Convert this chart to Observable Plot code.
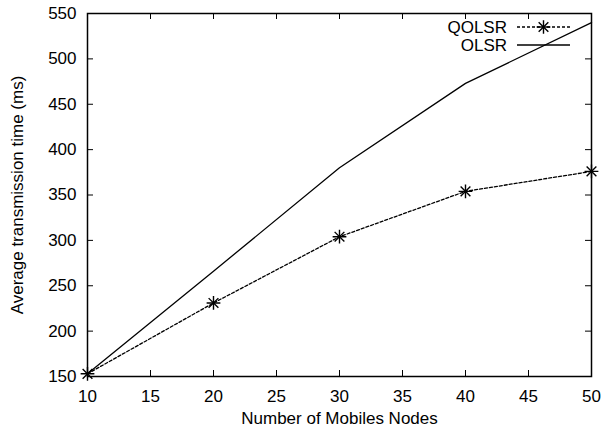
<!DOCTYPE html>
<html>
<head>
<meta charset="utf-8">
<script src="https://cdn.jsdelivr.net/npm/d3@7"></script>
<script src="https://cdn.jsdelivr.net/npm/@observablehq/plot@0.6"></script>
<style>
  html, body { margin: 0; padding: 0; background: #fff; }
  svg { font-family: "Liberation Sans", Arial, sans-serif; }
</style>
</head>
<body>
<div id="chart"></div>
<script>
const nodes = [10, 20, 30, 40, 50];
const qolsr = [153, 231, 304, 354, 376];
const olsr  = [153, 266, 380, 473, 540];
const xTicks = [10, 15, 20, 25, 30, 35, 40, 45, 50];
const yTicks = [150, 200, 250, 300, 350, 400, 450, 500, 550];
const seriesNames = ["QOLSR", "OLSR"];

const W = 605, H = 430, mL = 87, mR = 14, mT = 13, mB = 54;
const fw = W - mL - mR, fh = H - mT - mB, tl = 6, FS = 17;

const qData = nodes.map((x, i) => ({x, y: qolsr[i]}));
const oData = nodes.map((x, i) => ({x, y: olsr[i]}));

const svg = Plot.plot({
  width: W, height: H,
  marginLeft: mL, marginRight: mR, marginTop: mT, marginBottom: mB,
  style: {fontFamily: "Liberation Sans, Arial, sans-serif", fontSize: FS + "px", color: "black", background: "white"},
  x: {domain: [10, 50]},
  y: {domain: [150, 550]},
  marks: [
    Plot.axisX(xTicks, {tickSize: 0, tickPadding: 13, label: null, fontSize: FS}),
    Plot.axisY(yTicks, {tickSize: 0, tickPadding: 11, label: null, fontSize: FS}),
    Plot.tickX(xTicks, {x: d => d, insetTop: fh - tl, stroke: "black", strokeWidth: 1}),
    Plot.tickX(xTicks, {x: d => d, insetBottom: fh - tl, stroke: "black", strokeWidth: 1}),
    Plot.tickY(yTicks, {y: d => d, insetRight: fw - tl, stroke: "black", strokeWidth: 1}),
    Plot.tickY(yTicks, {y: d => d, insetLeft: fw - tl, stroke: "black", strokeWidth: 1}),
    Plot.line(oData, {x: "x", y: "y", stroke: "black", strokeWidth: 1.3}),
    Plot.line(qData, {x: "x", y: "y", stroke: "black", strokeWidth: 1.3, strokeDasharray: "3,2"}),
    Plot.dot(qData, {x: "x", y: "y", symbol: "plus", r: 4.5, stroke: "black", strokeWidth: 1.4}),
    Plot.dot(qData, {x: "x", y: "y", symbol: "times", r: 4.5, stroke: "black", strokeWidth: 1.4}),
    Plot.frame({stroke: "black", strokeWidth: 1.5}),
    Plot.text(["Number of Mobiles Nodes"], {frameAnchor: "bottom", dy: 42, textAnchor: "middle", lineAnchor: "middle", fontSize: FS, fill: "black"}),
    Plot.text(["Average transmission time (ms)"], {frameAnchor: "left", dx: -70, rotate: -90, textAnchor: "middle", lineAnchor: "middle", fontSize: FS, fill: "black"})
  ]
});

// legend (top-right, inside the frame)
const lg = d3.select(svg).append("g").attr("font-size", FS).attr("font-family", "Liberation Sans, Arial, sans-serif");
const lx0 = mL + fw - 74, lx1 = mL + fw - 21, lxt = mL + fw - 84;
seriesNames.forEach((name, i) => {
  const yy = mT + 14 + i * 18;
  lg.append("text").attr("x", lxt).attr("y", yy).attr("dy", "0.35em").attr("text-anchor", "end").attr("fill", "black").text(name);
  lg.append("line").attr("x1", lx0).attr("x2", lx1).attr("y1", yy).attr("y2", yy)
    .attr("stroke", "black").attr("stroke-width", 1.3).attr("stroke-dasharray", i === 0 ? "3,2" : null);
  if (i === 0) {
    const cx = (lx0 + lx1) / 2;
    [d3.symbolPlus, d3.symbolTimes].forEach(s => {
      lg.append("path").attr("d", d3.symbol(s, Math.PI * 20)()).attr("transform", `translate(${cx},${yy})`)
        .attr("fill", "none").attr("stroke", "black").attr("stroke-width", 1.4);
    });
  }
});

document.getElementById("chart").appendChild(svg);
</script>
</body>
</html>
